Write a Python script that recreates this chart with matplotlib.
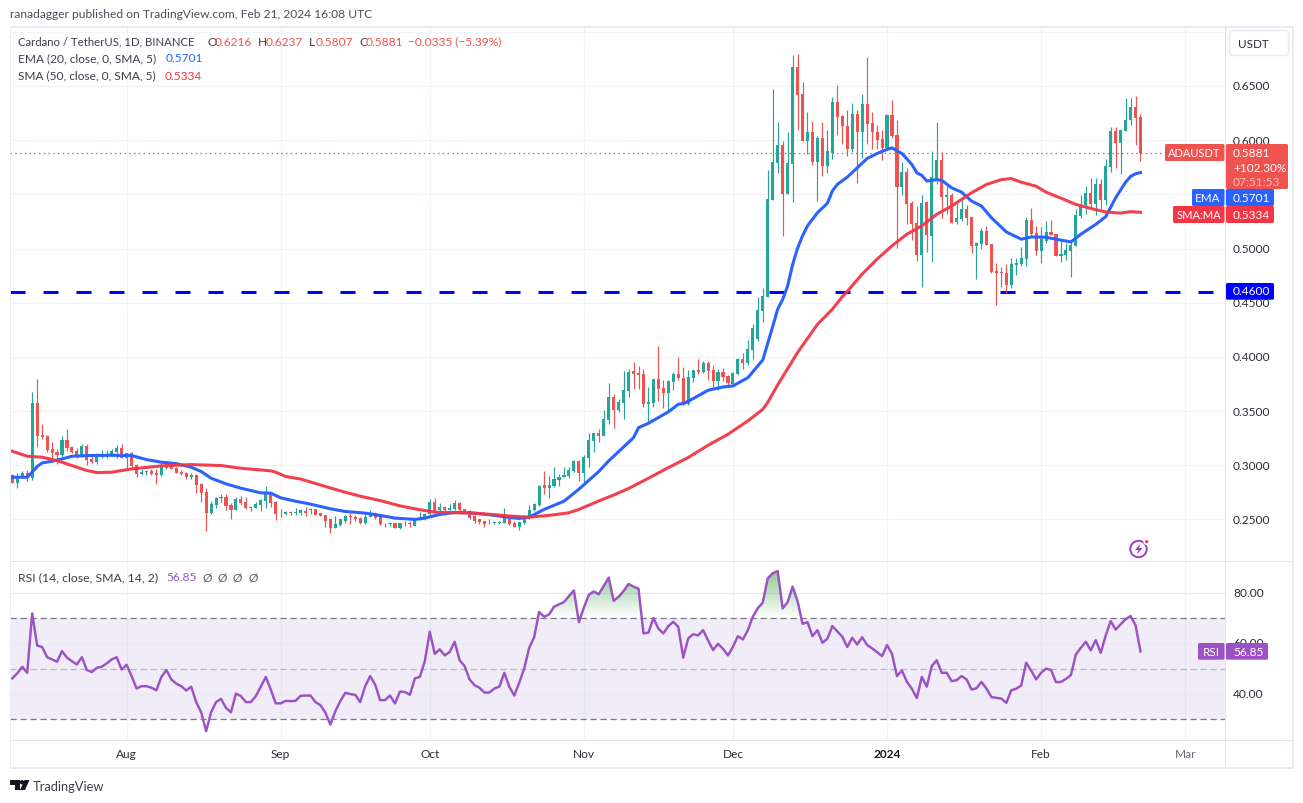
import numpy as np
import matplotlib
matplotlib.use("Agg")
import matplotlib.pyplot as plt
from matplotlib.patches import FancyBboxPatch, Polygon, Circle, Rectangle
from matplotlib.path import Path

W, H = 1303, 804
FONT = "Lato"
plt.rcParams["font.family"] = [FONT, "DejaVu Sans"]

opens = [.2911,.2840,.2880,.2926,.2880,.3574,.3279,.3270,.3150,.3123,.3095,.3233,.3172,.3135,.3086,.3178,.3061,.3034,.3089,.3077,
.3095,.3123,.3160,.3071,.3114,.3003,.2923,.2939,.2951,.2929,.2911,.2975,.3021,.2979,.2942,.2929,.2893,.2911,.2828,.2754,
.2555,.2635,.2693,.2708,.2635,.2589,.2690,.2662,.2616,.2607,.2635,.2672,.2736,.2662,.2561,.2552,.2570,.2561,.2555,.2576,
.2583,.2592,.2555,.2543,.2500,.2420,.2451,.2485,.2528,.2518,.2509,.2469,.2518,.2552,.2537,.2460,.2454,.2466,.2423,.2469,
.2466,.2442,.2506,.2500,.2546,.2662,.2589,.2616,.2589,.2598,.2653,.2598,.2573,.2528,.2500,.2488,.2469,.2463,.2469,.2469,
.2524,.2469,.2433,.2469,.2512,.2589,.2635,.2816,.2788,.2809,.2864,.2892,.2899,.2945,.3037,.2926,.3065,.3221,.3295,.3267,
.3415,.3627,.3507,.3572,.3682,.3867,.3848,.3839,.3563,.3572,.3793,.3710,.3664,.3765,.3839,.3802,.3563,.3802,.3876,.3858,
.3941,.3876,.3775,.3858,.3821,.3747,.3839,.3978,.3941,.4061,.4162,.4420,.4555,.5445,.5785,.5951,.5500,.5776,.6678,.6429,
.5997,.6080,.5794,.6024,.5758,.5886,.6356,.6227,.6135,.5914,.6245,.6080,.6337,.6162,.6080,.6015,.5932,.6236,.6052,.5564,
.5702,.5417,.5233,.4939,.5426,.5113,.5646,.5820,.5471,.5490,.5242,.5269,.5361,.5288,.5021,.5040,.5159,.5040,.4792,.4783,
.4774,.4663,.4847,.4856,.4902,.5260,.5141,.4976,.5067,.5150,.5132,.4930,.4939,.4976,.5021,.5297,.5398,.5517,.5407,.5591,
.5444,.5756,.6086,.5976,.6086,.6187,.6307,.6216]
highs = [.2920,.2926,.2945,.2957,.3672,.3795,.3381,.3279,.3212,.3150,.3270,.3335,.3181,.3160,.3193,.3193,.3083,.3114,.3141,.3141,
.3150,.3187,.3196,.3114,.3123,.3012,.2966,.2945,.2966,.2966,.3028,.3037,.3034,.2982,.2957,.2936,.2929,.2920,.2834,.2788,
.2672,.2708,.2736,.2736,.2650,.2705,.2714,.2708,.2625,.2662,.2690,.2810,.2745,.2672,.2598,.2579,.2579,.2607,.2598,.2613,
.2607,.2598,.2561,.2543,.2506,.2534,.2506,.2537,.2561,.2543,.2518,.2567,.2589,.2567,.2543,.2469,.2479,.2469,.2469,.2488,
.2488,.2512,.2570,.2561,.2690,.2699,.2653,.2625,.2644,.2681,.2662,.2598,.2583,.2543,.2506,.2488,.2506,.2488,.2488,.2607,
.2534,.2488,.2479,.2543,.2635,.2653,.2818,.2945,.2901,.2983,.2919,.2983,.2982,.3046,.3046,.3092,.3295,.3295,.3332,.3507,
.3756,.3655,.3609,.3867,.3885,.3950,.3913,.3885,.3719,.3793,.4097,.3784,.3784,.3858,.3996,.3904,.3876,.3876,.3978,.3959,
.3959,.3922,.3885,.3895,.3830,.3858,.3987,.4033,.4153,.4300,.4549,.4632,.5721,.6475,.6172,.5988,.6080,.6788,.6797,.6540,
.6264,.6181,.6034,.6172,.6098,.6402,.6512,.6236,.6282,.6346,.6282,.6429,.6770,.6264,.6144,.6098,.6245,.6374,.6190,.5794,
.5739,.5436,.5393,.5491,.5436,.5896,.6172,.5894,.5581,.5508,.5422,.5453,.5398,.5288,.5058,.5187,.5205,.5040,.4865,.4829,
.4856,.4911,.4911,.5012,.5288,.5370,.5205,.5196,.5251,.5260,.5132,.5067,.5049,.5067,.5361,.5490,.5581,.5655,.5655,.5646,
.5829,.6123,.6123,.6105,.6389,.6389,.6408,.6237]
lows = [.2840,.2794,.2880,.2856,.2868,.3172,.3243,.3126,.3058,.3012,.3074,.3135,.3114,.3068,.3074,.3006,.3021,.3015,.3064,.3064,
.3083,.3064,.3064,.2960,.2985,.2893,.2911,.2911,.2911,.2831,.2902,.2966,.2966,.2929,.2914,.2874,.2874,.2748,.2665,.2389,
.2549,.2607,.2656,.2589,.2506,.2589,.2629,.2598,.2582,.2607,.2579,.2607,.2616,.2497,.2524,.2543,.2543,.2543,.2543,.2528,
.2546,.2537,.2534,.2433,.2378,.2420,.2439,.2469,.2460,.2488,.2460,.2454,.2518,.2506,.2451,.2433,.2442,.2423,.2414,.2442,
.2433,.2442,.2497,.2497,.2543,.2567,.2580,.2537,.2580,.2589,.2580,.2561,.2506,.2469,.2457,.2433,.2460,.2460,.2460,.2469,
.2451,.2433,.2405,.2460,.2506,.2580,.2625,.2736,.2699,.2800,.2809,.2892,.2880,.2935,.2852,.2843,.2982,.3120,.3212,.3267,
.3378,.3341,.3489,.3424,.3627,.3701,.3701,.3535,.3397,.3535,.3590,.3526,.3489,.3692,.3784,.3553,.3553,.3765,.3839,.3848,
.3784,.3719,.3692,.3775,.3719,.3728,.3830,.3885,.3922,.3978,.4150,.4322,.4549,.5445,.5693,.5113,.5500,.5426,.6098,.5997,
.5868,.5767,.5436,.5666,.5693,.5822,.6052,.5969,.5850,.5889,.5601,.5840,.5969,.5914,.5914,.5813,.5905,.6024,.5003,.5491,
.5224,.5077,.4883,.4644,.4966,.4874,.5591,.5278,.5315,.5233,.5223,.5251,.5214,.4957,.4718,.4994,.5031,.4774,.4480,.4645,
.4590,.4636,.4755,.4838,.4838,.5122,.4939,.4865,.5049,.5122,.4930,.4875,.4893,.4737,.5021,.5278,.5315,.5379,.5306,.5361,
.5398,.5710,.5747,.5692,.6086,.6141,.5958,.5807]
closes = [.2840,.2880,.2926,.2880,.3574,.3273,.3264,.3141,.3111,.3095,.3233,.3163,.3123,.3095,.3178,.3052,.3034,.3086,.3098,.3104,
.3132,.3160,.3071,.3114,.2994,.2923,.2939,.2945,.2920,.2911,.2994,.3021,.2969,.2929,.2923,.2889,.2911,.2822,.2748,.2555,
.2641,.2699,.2708,.2625,.2589,.2690,.2653,.2607,.2607,.2644,.2681,.2745,.2653,.2552,.2555,.2570,.2561,.2570,.2589,.2561,
.2592,.2543,.2534,.2488,.2423,.2460,.2500,.2528,.2521,.2506,.2469,.2524,.2561,.2515,.2454,.2454,.2466,.2423,.2466,.2463,
.2460,.2500,.2512,.2546,.2662,.2580,.2619,.2589,.2607,.2653,.2589,.2561,.2515,.2488,.2479,.2460,.2463,.2479,.2479,.2524,
.2460,.2433,.2479,.2524,.2589,.2644,.2809,.2788,.2816,.2873,.2895,.2910,.2954,.3037,.2926,.3074,.3231,.3295,.3267,.3424,
.3627,.3507,.3581,.3692,.3858,.3839,.3830,.3563,.3581,.3793,.3701,.3664,.3775,.3839,.3802,.3553,.3812,.3876,.3858,.3941,
.3867,.3775,.3858,.3812,.3756,.3848,.3978,.3941,.4070,.4263,.4429,.4559,.5454,.5794,.5951,.5500,.5785,.6678,.6420,.5997,
.6080,.5794,.6024,.5758,.5896,.6356,.6218,.6135,.5914,.6245,.6080,.6337,.6153,.6080,.6006,.5932,.6236,.6043,.5564,.5702,
.5408,.5224,.4939,.5417,.5123,.5664,.5820,.5471,.5490,.5239,.5278,.5361,.5278,.5021,.5052,.5159,.5031,.4783,.4774,.4774,
.4663,.4856,.4865,.4911,.5260,.5132,.4976,.5086,.5150,.5122,.4930,.4948,.4985,.5031,.5306,.5407,.5517,.5407,.5591,.5444,
.5765,.6086,.5976,.6095,.6187,.6307,.6206,.5881]

ema_days = [0,3,4,5,6,8,10,12,15,20,24,27,30,33,36,38,40,43,46,50,52,54,57,60,64,67,71,74,77,81,83,86,89,92,96,99,102,104,107,111,114,
118,120,122,125,126,128,130,132,134,135,137,140,143,145,148,151,152,153,154,155,156,157,158,159,160,161,162,164,165,166,168,170,172,174,176,177,179,181,182,183,184,186,187,189,191,193,195,197,200,203,205,208,210,213,215,218,220,222,224,225,226,227]
ema_vals = [.2889,.2889,.2936,.2988,.3021,.3037,.3058,.3083,.3089,.3092,.3089,.3052,.3028,.3015,.2982,.2942,.2880,.2828,.2788,.2745,.2742,.2699,.2668,.2641,.2598,.2573,.2558,.2537,.2512,.2500,.2512,.2546,.2564,.2561,.2543,.2524,.2509,.2521,.2592,.2668,.2779,
.2942,.3040,.3126,.3255,.3347,.3387,.3440,.3492,.3563,.3569,.3615,.3692,.3722,.3732,.3808,.3971,.4125,.4280,.4440,.4530,.4655,.4850,.5003,.5117,.5209,.5270,.5331,.5417,.5531,.5592,.5659,.5745,.5831,.5877,.5914,.5929,.5877,.5776,.5699,.5675,.5623,.5636,.5630,.5560,.5520,.5438,.5392,.5285,.5153,.5086,.5107,.5104,.5086,.5061,.5132,.5223,.5294,.5468,.5612,.5665,.5690,.5701]

sma_days = [0,3,6,9,12,15,17,20,24,30,36,42,46,52,53,55,58,62,66,70,74,78,82,85,89,93,97,101,104,108,112,114,118,121,124,128,132,136,140,144,148,151,152,154,158,162,165,167,168,171,174,177,180,183,186,189,193,196,199,201,203,206,208,211,214,217,220,223,225,227]
sma_vals = [.3129,.3083,.3074,.3043,.2997,.2951,.2932,.2936,.2966,.2994,.3006,.2997,.2972,.2948,.2936,.2896,.2873,.2818,.2763,.2714,.2674,.2625,.2589,.2567,.2561,.2558,.2543,.2528,.2521,.2537,.2561,.2592,.2670,.2725,.2785,.2880,.2978,.3071,.3184,.3286,.3409,.3516,.3580,.3741,.4040,.4300,.4440,.4555,.4604,.4764,.4902,.5025,.5132,.5209,.5316,.5392,.5514,.5591,.5636,.5646,.5612,.5575,.5520,.5465,.5407,.5370,.5337,.5327,.5340,.5334]

rsi = [46.2,48.2,50.8,48.4,71.9,59.2,58.6,54.6,53.7,52.8,57.0,54.4,53.0,51.7,54.6,49.5,48.7,50.4,50.8,52.1,53.7,54.6,49.7,51.6,47.1,42.2,43.1,43.1,42.5,41.5,
46.8,49.5,45.8,44.1,43.1,41.4,42.9,36.8,32.8,25.3,32.8,36.8,38.1,34.5,32.8,40.2,39.2,36.8,36.8,39.2,42.9,46.8,41.8,36.3,36.3,37.3,37.2,37.3,39.3,39.4,
39.4,36.8,35.6,32.6,27.9,33.2,37.2,40.5,40.0,39.7,36.8,43.1,47.1,43.8,37.6,37.6,39.4,36.3,41.0,40.8,39.7,46.2,46.8,53.0,64.7,55.9,57.7,55.3,56.6,60.7,
53.4,51.1,45.8,43.5,42.5,40.6,40.6,42.2,42.9,48.4,42.9,39.4,44.5,50.1,58.3,62.5,72.5,70.6,71.5,74.6,75.5,76.4,78.8,81.0,68.5,74.2,79.3,80.6,79.5,82.8,
86.1,76.9,78.5,80.8,83.6,82.5,81.7,64.0,64.3,70.1,65.9,64.0,66.9,68.6,66.6,54.4,62.0,63.7,63.2,65.3,61.2,57.4,59.9,57.9,55.3,58.7,62.9,61.6,65.3,70.6,
74.0,76.2,85.8,87.8,88.7,73.9,76.4,82.5,76.8,67.8,68.5,62.9,65.3,60.3,61.9,66.9,64.8,62.7,58.6,62.3,59.6,62.5,59.4,58.1,56.6,55.0,59.4,55.9,47.1,49.3,
44.8,42.1,38.4,46.8,42.9,51.1,53.4,48.4,48.4,45.1,45.5,47.1,45.8,41.8,42.3,44.8,42.2,38.8,38.5,38.2,36.5,41.5,42.1,43.4,52.4,49.3,45.8,48.4,50.1,49.5,
44.7,44.8,46.0,47.5,55.7,58.3,60.7,57.3,61.4,56.3,63.2,68.9,65.5,67.6,69.6,70.9,67.3,56.85]

support_level = 0.46
price_ticks = [0.25,0.30,0.35,0.40,0.45,0.50,0.55,0.60,0.65,0.70]
rsi_ticks = [40,60,80]
month_days = [23,54,84,115,145,176,207,236]
month_labels = ["Aug","Sep","Oct","Nov","Dec","2024","Feb","Mar"]

UP, DOWN = "#26a69a", "#ef5350"
BLUE, RED, PURPLE = "#2962ff", "#f23645", "#9c51c4"
GRID = "#f0f3fa"
BORDER = "#e0e3eb"
TXT = "#131722"

X0, XSTEP = 12.3, 4.97
L, R = 10.0, 1225.5
T1, B1 = 28.5, 562.0
T2, B2 = 563.0, 741.0

def add_axes(top, bottom):
    a = fig.add_axes([L/W, 1-bottom/H, (R-L)/W, (bottom-top)/H])
    a.set_xlim((L-X0)/XSTEP, (R-X0)/XSTEP)
    a.set_xticks([]); a.set_yticks([])
    for s in a.spines.values():
        s.set_visible(False)
    return a

fig = plt.figure(figsize=(W/100, H/100), dpi=100, facecolor="white")
ax = add_axes(T1, B1)
ax.set_ylim(0.65-(B1-87)/1083.5, 0.65+(87-T1)/1083.5)
rx = add_axes(T2, B2)
rx.set_ylim(30-(B2-720.3)/2.526, 80+(594-T2)/2.526)

days = np.arange(len(closes))
o, h, l, c = map(np.array, (opens, highs, lows, closes))
colors = np.where(c >= o, UP, DOWN)

for a in (ax, rx):
    for d in month_days:
        a.axvline(d, color=GRID, lw=0.9, zorder=0)
for p in price_ticks:
    ax.axhline(p, color=GRID, lw=0.9, zorder=0)
for v in rsi_ticks:
    rx.axhline(v, color="#e9e8f3", lw=0.9, zorder=2)

ax.axhline(support_level, color="#0000ff", lw=2.16, zorder=1,
           dashes=(5, 6), dash_capstyle="butt")
ax.axhline(closes[-1], color=DOWN, lw=0.9, ls=(0, (1.2, 2.6)), zorder=1)

ax.vlines(days, l, h, colors=colors, lw=0.85, zorder=3)
ax.bar(days, np.abs(c-o), bottom=np.minimum(o, c), width=0.62, color=colors, zorder=3, lw=0)
ax.plot(ema_days, ema_vals, color=BLUE, lw=2.2, zorder=4, solid_joinstyle="round")
ax.plot(sma_days, sma_vals, color=RED, lw=2.2, zorder=5, solid_joinstyle="round", alpha=0.95)

rx.axhspan(30, 70, color="#7e57c2", alpha=0.1, lw=0, zorder=1)
rx.axhline(70, color="#787b86", lw=0.9, dashes=(5, 3), zorder=3)
rx.axhline(30, color="#787b86", lw=0.9, dashes=(5, 3), zorder=3)
rx.axhline(50, color="#b5b5c0", lw=0.9, dashes=(5, 3), zorder=3)

rsi_arr = np.array(rsi)
coll = rx.fill_between(days, 70, rsi_arr, where=rsi_arr >= 70, interpolate=True, color="none")
clip = Path.make_compound_path(*coll.get_paths())
coll.remove()
grad = np.zeros((64, 2, 4))
grad[..., :3] = np.array([56, 160, 70])/255
grad[..., 3] = np.linspace(0.62, 0.0, 64)[:, None]
xl, yl = rx.get_xlim(), rx.get_ylim()
im = rx.imshow(grad, extent=[xl[0], xl[1], 70, 90], aspect="auto", origin="upper", zorder=2)
im.set_clip_path(clip, transform=rx.transData)
rx.set_xlim(xl); rx.set_ylim(yl)
rx.plot(days, rsi, color=PURPLE, lw=1.75, zorder=5, solid_joinstyle="round")

# overlay in pixel coordinates for the chart furniture
ov = fig.add_axes([0, 0, 1, 1], zorder=10)
ov.set_xlim(0, W); ov.set_ylim(H, 0); ov.axis("off"); ov.patch.set_alpha(0)

def rect(x0, y0, x1, y1, col, z=1):
    ov.add_patch(Rectangle((x0, y0), x1-x0, y1-y0, fc=col, ec="none", zorder=z))
def tag(x0, y0, x1, y1, col, z=3):
    ov.add_patch(FancyBboxPatch((x0+1, y0+1), x1-x0-2, y1-y0-2, boxstyle="round,pad=1,rounding_size=1.5",
                                fc=col, ec="none", zorder=z))
def txt(x, y, s, col=TXT, size=8.6, ha="left", z=5, weight="normal", alpha=1):
    ov.text(x, y, s, color=col, fontsize=size, ha=ha, va="center", zorder=z, weight=weight, alpha=alpha)

# frame
OUT = "#e9eaf2"
rect(9.5, 26.5, 1293.5, 28.5, OUT)
rect(9.5, 767.5, 1293.5, 770, OUT)
rect(9.5, 26.5, 11, 770, OUT)
rect(1291.5, 26.5, 1293.5, 770, OUT)
rect(11, 562, 1291.5, 563.2, BORDER)
rect(11, 740.8, 1291.5, 742, BORDER)
rect(1225, 28, 1226.2, 768, BORDER)

# header
LBL = "#3b3f4a"
txt(10, 14.5, "ranadagger published on TradingView.com, Feb 21, 2024 16:08 UTC", "#4a4e59", 8.62)
txt(18, 42, "Cardano / TetherUS, 1D, BINANCE", LBL, 8.2)
for x, s, col in [(207, "O", LBL), (215, "0.6216", DOWN), (258, "H", LBL), (266, "0.6237", DOWN),
                  (309, "L", LBL), (316, "0.5807", DOWN), (359, "C", LBL), (366, "0.5881", DOWN),
                  (408, "\u22120.0335 (\u22125.39%)", DOWN)]:
    txt(x, 42, s, col, 8.6)
txt(18, 59, "EMA (20, close, 0, SMA, 5)", LBL, 8.6)
txt(166, 59, "0.5701", BLUE, 8.6)
txt(18, 76, "SMA (50, close, 0, SMA, 5)", LBL, 8.6)
txt(165, 76, "0.5334", RED, 8.6)
txt(18, 578, "RSI (14, close, SMA, 14, 2)", LBL, 8.8)
txt(166, 578, "56.85", PURPLE, 8.6)
for x in (207, 222, 237, 253):
    txt(x, 578, "\u00d8", "#5d606b", 8.6, ha="center")

# axis labels
to_y = lambda p: 87 + (0.65-p)*1083.5
for p in price_ticks[:-1]:
    txt(1233, to_y(p), f"{p:.4f}", "#2a2e39", 8.6, z=2)
for v, y in [(80, 594), (60, 644), (40, 695)]:
    txt(1233, y, f"{v:.2f}", "#2a2e39", 8.6, z=2)
for d, s in zip(month_days, month_labels):
    col = "#131722" if s == "2024" else ("#6a6d78" if s == "Mar" else "#2a2e39")
    txt(X0+XSTEP*d, 755, s, col, 8.6, ha="center", weight="bold" if s == "2024" else "normal")

# USDT box
ov.add_patch(FancyBboxPatch((1229.5, 31.5), 59, 25, boxstyle="round,pad=0,rounding_size=4", fc="white", ec="#e9ebf2", lw=1.1, zorder=2))
txt(1238, 44.5, "USDT", "#2a2e39", 8.4, z=3)

# price tags
tag(1165, 145, 1224.5, 162, DOWN)
txt(1194.5, 153.5, "ADAUSDT", "white", 8.0, ha="center")
tag(1226, 145, 1288, 190, DOWN)
txt(1233, 153.5, "0.5881", "white", 8.6)
txt(1233, 168, "+102.30%", "white", 8.5)
txt(1233, 182, "07:51:53", "white", 8.6, alpha=0.6)
tag(1192, 190, 1224.5, 207, BLUE)
txt(1208, 198.5, "EMA", "white", 8.4, ha="center")
tag(1226, 190, 1274, 207, BLUE)
txt(1233, 198.5, "0.5701", "white", 8.6)
tag(1173, 207, 1224.5, 224, RED)
txt(1198.5, 215.5, "SMA:MA", "white", 8.0, ha="center")
tag(1226, 207, 1274, 224, RED)
txt(1233, 215.5, "0.5334", "white", 8.6)
tag(1226, 284, 1274, 300.7, "#0000ff")
txt(1233, 292, "0.4600", "white", 8.6)
tag(1198, 644, 1224.5, 660.7, PURPLE)
txt(1211, 652.5, "RSI", "white", 8.4, ha="center")
tag(1226, 644, 1268, 660.7, PURPLE)
txt(1233, 652.5, "56.85", "white", 8.6)

# lightning icon
ICON = "#9c3fc8"
ov.add_patch(Circle((1138.5, 550), 8.2, fc="white", ec=ICON, lw=1.4, zorder=3))
ov.add_patch(Polygon([(1140.5, 544.5), (1135, 551), (1138.5, 551), (1137, 555.5), (1142.5, 549), (1139, 549)],
                     fc=ICON, ec="none", zorder=4))
ov.add_patch(Circle((1146.7, 542.7), 2.5, fc="#f23645", ec="white", lw=1.2, zorder=5))

# TradingView logo
LOGO = "#131722"
ov.add_patch(Polygon([(10, 781), (19.5, 781), (19.5, 791), (15, 791), (15, 785.5), (10, 785.5)], fc=LOGO, ec="none"))
ov.add_patch(Circle((22, 783.3), 2.2, fc=LOGO, ec="none"))
ov.add_patch(Polygon([(24.5, 781), (29.5, 781), (25, 791), (20, 791)], fc=LOGO, ec="none"))
txt(33, 787, "TradingView", LBL, 9.3)

fig.savefig("out.png", dpi=100)
